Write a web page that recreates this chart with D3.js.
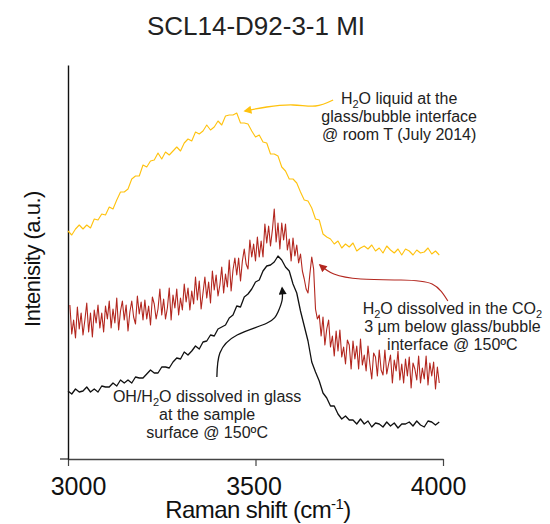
<!DOCTYPE html>
<html>
<head>
<meta charset="utf-8">
<script src="https://cdn.jsdelivr.net/npm/d3@7"></script>
<style>
  body { margin: 0; background: #fff; }
  svg text { font-family: "Liberation Sans", Arial, sans-serif; }
</style>
</head>
<body>
<div id="chart"></div>
<script>
// Raman shift grids (cm-1) the spectra are sampled on
const yellowShift = d3.range(3000, 4000, 10);
const blackShift = d3.range(3000, 4000, 10);
const redShift = d3.range(3005, 3995, 5);

// H2O liquid at the glass/bubble interface, room T
const yellowIntensity = [
  228, 224, 230, 234, 230, 234, 231, 240, 239, 245,
  244, 252, 250, 259, 267, 267, 270, 280, 283, 283,
  294, 292, 298, 299, 306, 300, 307, 304, 308, 312,
  308, 316, 320, 318, 327, 325, 328, 334, 329, 332,
  338, 334, 343, 344, 344, 346, 336, 336, 335, 328,
  322, 324, 317, 316, 305, 305, 303, 292, 288, 280,
  280, 276, 267, 259, 258, 251, 240, 239, 225, 222,
  220, 215, 218, 211, 215, 212, 216, 208, 211, 213,
  210, 214, 208, 211, 206, 213, 209, 206, 210, 204,
  210, 208, 204, 209, 206, 207, 211, 205, 208, 204,
];

// H2O dissolved in the CO2, 3 um below the interface, 150 C
const redIntensity = [
  154, 125, 139, 121, 152, 130, 146, 124, 139, 156, 127, 146, 122, 149, 136, 154, 131, 146, 127, 153,
  140, 158, 131, 150, 136, 161, 129, 148, 158, 139, 154, 128, 147, 158, 142, 135, 163, 145, 157, 139,
  159, 140, 153, 134, 162, 155, 140, 150, 170, 144, 160, 140, 151, 171, 139, 164, 151, 170, 144, 161,
  149, 175, 157, 171, 149, 168, 155, 182, 159, 178, 150, 166, 182, 161, 177, 156, 188, 169, 184, 163,
  174, 192, 166, 185, 172, 199, 168, 189, 201, 184, 201, 178, 198, 210, 195, 190, 219, 202, 215, 198,
  222, 202, 218, 202, 235, 216, 233, 213, 229, 250, 217, 236, 210, 236, 219, 235, 209, 220, 198, 221,
  203, 214, 196, 205, 188, 180, 170, 166, 185, 202, 190, 150, 140,
  144, 123, 142, 114, 130, 139, 112, 123, 103, 128, 108, 129, 102, 112, 95, 119, 114, 90, 118, 100,
  113, 90, 120, 94, 104, 88, 113, 95, 80, 106, 102, 83, 109, 89, 84, 109, 85, 95, 104, 76,
  99, 88, 108, 79, 95, 76, 100, 83, 102, 71, 96, 90, 79, 103, 76, 91, 80, 103, 74, 96,
  83, 97, 70, 92, 76,
];

// OH/H2O dissolved in glass at the sample surface, 150 C
const blackIntensity = [
  68, 65, 70, 67, 68, 72, 67, 70, 67, 73,
  72, 72, 76, 73, 79, 76, 79, 76, 82, 81,
  81, 85, 89, 86, 86, 92, 92, 91, 97, 101,
  100, 107, 104, 108, 113, 110, 117, 118, 124, 123,
  130, 132, 134, 141, 144, 153, 152, 162, 165, 170,
  177, 179, 188, 193, 194, 197, 203, 199, 192, 188,
  175, 166, 148, 133, 118, 97, 87, 78, 66, 61,
  53, 53, 45, 40, 43, 39, 39, 35, 40, 35,
  38, 32, 36, 35, 32, 37, 33, 36, 31, 35,
  35, 37, 33, 38, 34, 32, 38, 37, 34, 37,
];

const xTicks = [3000, 3500, 4000];
// the tick labels sit slightly off their ticks in the original
const xTickNudge = { 3000: 10, 3500: -2, 4000: -5 };

// annotation text, [text, "sub"|null] pieces per line
const yellowNote = [
  [["H"], ["2", "sub"], ["O liquid at the"]],
  [["glass/bubble interface"]],
  [["@ room T (July 2014)"]],
];
const redNote = [
  [["H"], ["2", "sub"], ["O dissolved in the CO"], ["2", "sub"]],
  [["3 µm below glass/bubble"]],
  [["interface @ 150ºC"]],
];
const blackNote = [
  [["OH/H"], ["2", "sub"], ["O dissolved in glass"]],
  [["at the sample"]],
  [["surface @ 150ºC"]],
];

// arrow paths and label anchors in data space [shift, intensity]
const yellowArrow = [[3707, 359], [3660, 353], [3600, 354], [3530, 352], [3472, 348]];
const redArrow = [[4013, 158], [3971, 175], [3888, 179], [3781, 180], [3709, 185], [3672, 194]];
const blackArrow = [[3397, 82], [3405, 106], [3451, 124], [3531, 136], [3560, 147], [3571, 159], [3571, 171]];
const yellowNoteAt = [3883, 355];
const redNoteAt = [4025, 145];
const blackNoteAt = [3371, 57];

const colors = { yellow: "#ffc20e", red: "#b3271f", black: "#111111" };

const width = 550;
const height = 524;

const svg = d3
  .select("#chart")
  .append("svg")
  .attr("width", width)
  .attr("height", height);

const x = d3.scaleLinear().domain([3000, 4000]).range([68, 443]);
const y = d3.scaleLinear().domain([0, 394]).range([459, 65]);

// title
svg
  .append("text")
  .attr("x", 256)
  .attr("y", 35)
  .attr("text-anchor", "middle")
  .attr("font-size", 26)
  .attr("fill", "#222")
  .text("SCL14-D92-3-1 MI");

// axes
const xAxis = svg
  .append("g")
  .attr("transform", `translate(0,${y(0)})`)
  .call(d3.axisBottom(x).tickValues(xTicks).tickSize(7).tickSizeOuter(0).tickFormat(d3.format("d")));
xAxis.select(".domain").attr("stroke", "#444").attr("stroke-width", 1.4);
xAxis.selectAll(".tick line").attr("stroke", "#444").attr("stroke-width", 1.2);
xAxis
  .selectAll(".tick text")
  .attr("y", 36)
  .attr("dy", 0)
  .attr("x", (d) => xTickNudge[d] || 0)
  .attr("font-size", 25)
  .attr("fill", "#111")
  .attr("font-family", '"Liberation Sans", Arial, sans-serif');
xAxis
  .append("line")
  .attr("x1", x(3000) - 8)
  .attr("x2", x(3000))
  .attr("stroke", "#444")
  .attr("stroke-width", 1.4);

const yAxis = svg
  .append("g")
  .attr("transform", `translate(${x(3000)},0)`)
  .call(d3.axisLeft(y).tickValues([]).tickSizeOuter(0));
yAxis.select(".domain").attr("stroke", "#111").attr("stroke-width", 1.4);

// axis titles
const xTitle = svg
  .append("text")
  .attr("x", 258)
  .attr("y", 518)
  .attr("text-anchor", "middle")
  .attr("font-size", 24)
  .attr("fill", "#111")
  .attr("letter-spacing", -0.6);
xTitle.append("tspan").text("Raman shift (cm");
xTitle.append("tspan").attr("font-size", 15).attr("dy", -9).text("-1");
xTitle.append("tspan").attr("dy", 9).text(")");

svg
  .append("text")
  .attr("transform", `translate(40,259) rotate(-90)`)
  .attr("text-anchor", "middle")
  .attr("font-size", 22)
  .attr("fill", "#111")
  .attr("letter-spacing", -0.5)
  .text("Intenisity (a.u.)");

// spectra
const line = d3
  .line()
  .x((d) => x(d[0]))
  .y((d) => y(d[1]));

const series = [
  { shift: yellowShift, values: yellowIntensity, color: colors.yellow, w: 1.1 },
  { shift: redShift, values: redIntensity, color: colors.red, w: 1.1 },
  { shift: blackShift, values: blackIntensity, color: colors.black, w: 1.3 },
];

svg
  .append("g")
  .selectAll("path")
  .data(series)
  .join("path")
  .attr("fill", "none")
  .attr("stroke", (d) => d.color)
  .attr("stroke-width", (d) => d.w)
  .attr("stroke-linejoin", "round")
  .attr("d", (d) => line(d3.zip(d.shift, d.values)));

// arrowheads
const defs = svg.append("defs");
Object.entries(colors).forEach(([name, c]) => {
  defs
    .append("marker")
    .attr("id", `head-${name}`)
    .attr("viewBox", "0 0 10 10")
    .attr("refX", 8)
    .attr("refY", 5)
    .attr("markerWidth", 9)
    .attr("markerHeight", 8)
    .attr("markerUnits", "userSpaceOnUse")
    .attr("orient", "auto")
    .append("path")
    .attr("d", "M0,0 L10,5 L0,10 z")
    .attr("fill", c);
});

const arrowLine = d3
  .line()
  .x((d) => x(d[0]))
  .y((d) => y(d[1]))
  .curve(d3.curveNatural);

[
  [yellowArrow, "yellow", 1.3],
  [redArrow, "red", 1.1],
  [blackArrow, "black", 1.3],
].forEach(([pts, name, w]) => {
  svg
    .append("path")
    .attr("d", arrowLine(pts))
    .attr("fill", "none")
    .attr("stroke", colors[name])
    .attr("stroke-width", w)
    .attr("marker-end", `url(#head-${name})`);
});

// notes
function note(lines, at) {
  const t = svg
    .append("text")
    .attr("text-anchor", "middle")
    .attr("font-size", 16)
    .attr("fill", "#222");
  lines.forEach((pieces, i) => {
    const first = t
      .append("tspan")
      .attr("x", x(at[0]))
      .attr("y", y(at[1]) + i * 18);
    let shift = 0;
    pieces.forEach(([s, kind], j) => {
      const span = j === 0 ? first : t.append("tspan");
      const want = kind === "sub" ? 4 : 0;
      span.attr("dy", want - shift);
      if (kind === "sub") span.attr("font-size", 11);
      span.text(s);
      shift = want;
    });
  });
}

note(yellowNote, yellowNoteAt);
note(redNote, redNoteAt);
note(blackNote, blackNoteAt);
</script>
</body>
</html>
